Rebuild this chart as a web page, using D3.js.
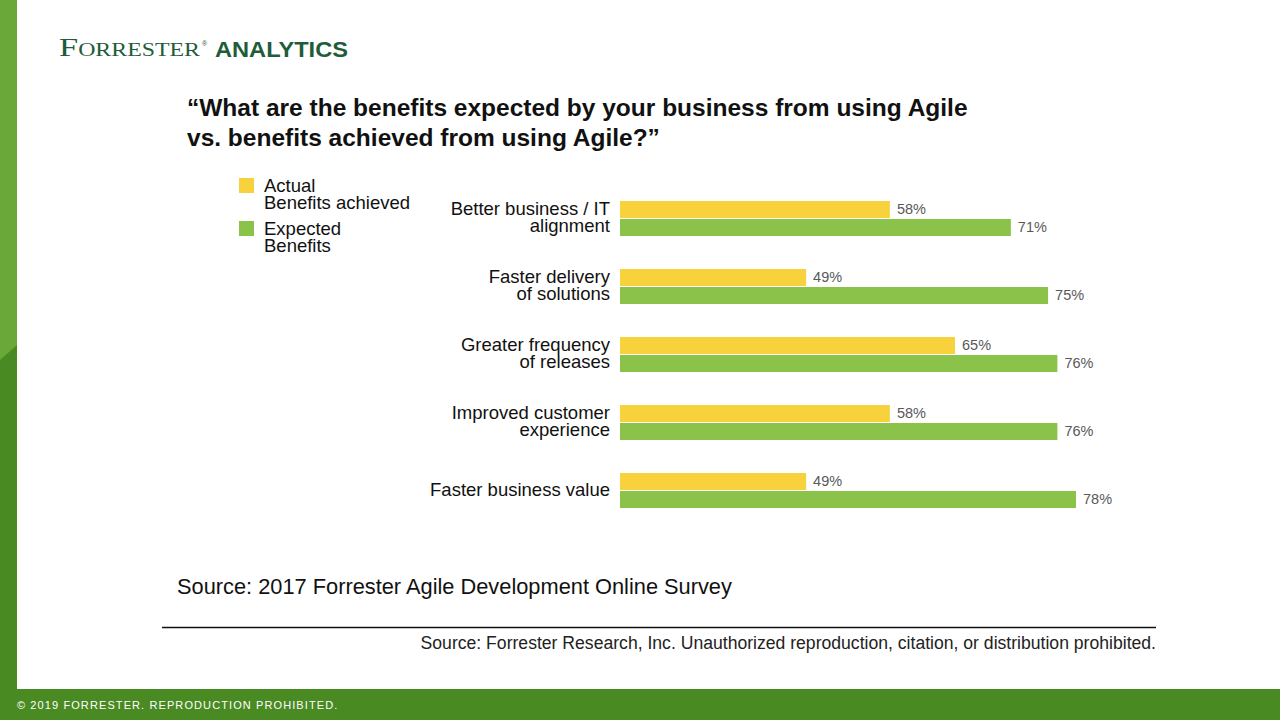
<!DOCTYPE html>
<html><head><meta charset="utf-8">
<script src="https://cdn.jsdelivr.net/npm/d3@7"></script>
<style>body{margin:0;background:#fff}svg{display:block;font-family:Arial,"Liberation Sans",sans-serif}</style>
</head><body><svg id="c" width="1280" height="720"></svg>
<script>
var categories = [
  ["Better business / IT", "alignment"],
  ["Faster delivery", "of solutions"],
  ["Greater frequency", "of releases"],
  ["Improved customer", "experience"],
  ["Faster business value"]
];
var actual = [58, 49, 65, 58, 49];
var expected = [71, 75, 76, 76, 78];
var seriesNames = [["Actual", "Benefits achieved"], ["Expected", "Benefits"]];
var colors = ["#f8d23c", "#8bc34a"];

var svg = d3.select("#c");
// frame
svg.append("rect").attr("x", 0).attr("y", 0).attr("width", 17).attr("height", 720).attr("fill", "#4a8a22");
svg.append("path").attr("d", "M0,0H17V345L0,360Z").attr("fill", "#6aa83a");
svg.append("rect").attr("x", 0).attr("y", 689).attr("width", 1280).attr("height", 31).attr("fill", "#4a8a22");
svg.append("text").attr("x", 17).attr("y", 709).attr("fill", "#fff").attr("font-size", 11)
  .attr("letter-spacing", 1.1).text("© 2019 FORRESTER. REPRODUCTION PROHIBITED.");

// logo
svg.append("text").attr("x", 59).attr("y", 56).attr("fill", "#1f5c3a")
  .attr("font-family", "'Liberation Serif',serif").attr("font-size", 26).attr("font-variant", "small-caps")
  .attr("textLength", 141).attr("lengthAdjust", "spacingAndGlyphs").text("Forrester");
svg.append("text").attr("x", 202).attr("y", 46).attr("fill", "#1f5c3a").attr("font-size", 7).text("®");
svg.append("text").attr("x", 215).attr("y", 57).attr("fill", "#1f5c3a").attr("font-weight", 900)
  .attr("font-size", 22).attr("textLength", 133).attr("lengthAdjust", "spacingAndGlyphs").text("ANALYTICS");

// title
svg.append("text").attr("x", 187).attr("y", 116).attr("font-size", 24.5).attr("font-weight", "bold").attr("fill", "#111")
  .text("“What are the benefits expected by your business from using Agile");
svg.append("text").attr("x", 187).attr("y", 146).attr("font-size", 24.5).attr("font-weight", "bold").attr("fill", "#111")
  .text("vs. benefits achieved from using Agile?”");

// legend
seriesNames.forEach(function (n, i) {
  var y = 178 + i * 43;
  svg.append("rect").attr("x", 239).attr("y", y).attr("width", 15).attr("height", 15).attr("fill", colors[i]);
  n.forEach(function (t, j) {
    svg.append("text").attr("x", 264).attr("y", y + 14 + j * 17).attr("font-size", 18.5).attr("fill", "#111").text(t);
  });
});

// bars
var x = d3.scaleLinear().domain([29, 78]).range([620, 1076]);
var y = d3.scaleBand().domain(d3.range(categories.length)).range([185, 525]);
var g = svg.append("g");
categories.forEach(function (c, i) {
  var top = y(i) + 16;
  [actual[i], expected[i]].forEach(function (v, k) {
    var by = top + k * 18;
    g.append("rect").attr("x", x(29)).attr("y", by).attr("width", x(v) - x(29)).attr("height", 17).attr("fill", colors[k]);
    g.append("text").attr("x", x(v) + 7).attr("y", by + 13).attr("font-size", 14.5).attr("fill", "#595959").text(v + "%");
  });
  var ly = c.length === 2 ? top + 14 : top + 23;
  c.forEach(function (t, j) {
    g.append("text").attr("x", 610).attr("y", ly + j * 17).attr("text-anchor", "end").attr("font-size", 18.5).attr("fill", "#111").text(t);
  });
});

// source
svg.append("text").attr("x", 177).attr("y", 594).attr("font-size", 21.8).attr("fill", "#111").text("Source: 2017 Forrester Agile Development Online Survey");
svg.append("line").attr("x1", 162).attr("x2", 1156).attr("y1", 627.5).attr("y2", 627.5).attr("stroke", "#111").attr("stroke-width", 1.5);
svg.append("text").attr("x", 1156).attr("y", 649).attr("text-anchor", "end").attr("font-size", 17.6).attr("fill", "#222")
  .text("Source: Forrester Research, Inc. Unauthorized reproduction, citation, or distribution prohibited.");
</script></body></html>
